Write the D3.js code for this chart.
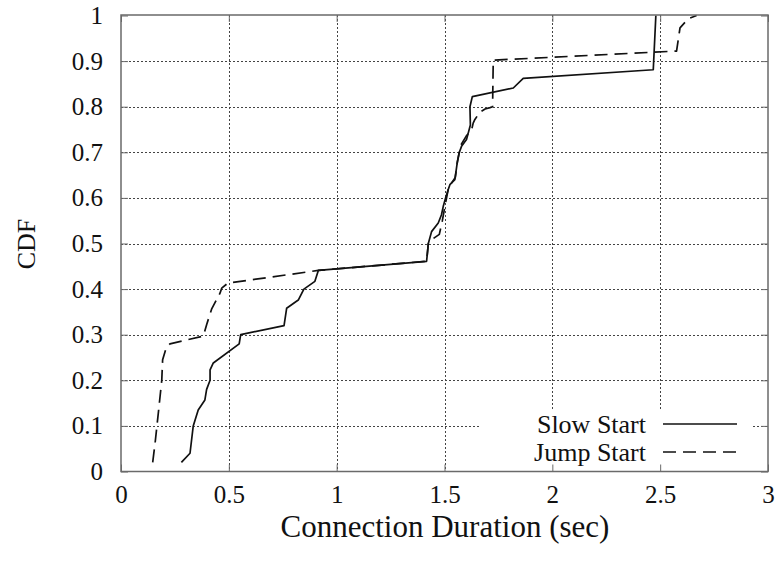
<!DOCTYPE html>
<html>
<head>
<meta charset="utf-8">
<script src="https://cdn.jsdelivr.net/npm/d3@7"></script>
<style>
  html, body { margin: 0; padding: 0; background: #fff; }
  svg { display: block; font-family: "Liberation Serif", "Times New Roman", serif; }
</style>
</head>
<body>
<svg id="chart" width="780" height="563"></svg>
<script>
// CDF of connection duration: [seconds, cumulative fraction]
const slowStart = [
  [0.28, 0.02], [0.32, 0.04], [0.335, 0.10], [0.358, 0.135], [0.389, 0.157],
  [0.397, 0.18], [0.413, 0.20], [0.413, 0.223], [0.428, 0.238], [0.548, 0.28],
  [0.555, 0.30], [0.756, 0.32], [0.768, 0.358], [0.822, 0.376], [0.848, 0.40],
  [0.899, 0.417], [0.915, 0.441], [1.417, 0.461], [1.425, 0.50], [1.44, 0.526],
  [1.471, 0.545], [1.486, 0.563], [1.494, 0.581], [1.505, 0.60], [1.517, 0.618],
  [1.525, 0.629], [1.548, 0.64], [1.559, 0.677], [1.568, 0.699], [1.579, 0.713],
  [1.602, 0.728], [1.61, 0.742], [1.62, 0.76], [1.618, 0.80], [1.629, 0.822],
  [1.819, 0.841], [1.865, 0.862], [2.468, 0.881], [2.48, 1.0]
];
const jumpStart = [
  [0.147, 0.02], [0.158, 0.062], [0.173, 0.128], [0.189, 0.20], [0.193, 0.245],
  [0.209, 0.27], [0.227, 0.28], [0.382, 0.297], [0.397, 0.322], [0.42, 0.356],
  [0.459, 0.391], [0.467, 0.402], [0.495, 0.413], [0.915, 0.441], [1.417, 0.461],
  [1.425, 0.50], [1.445, 0.51], [1.476, 0.52], [1.49, 0.55], [1.505, 0.589],
  [1.517, 0.618], [1.533, 0.633], [1.55, 0.645], [1.56, 0.68], [1.575, 0.715],
  [1.60, 0.735], [1.626, 0.75], [1.633, 0.764], [1.641, 0.772], [1.664, 0.788],
  [1.688, 0.795], [1.711, 0.798], [1.723, 0.80], [1.726, 0.902], [2.576, 0.922],
  [2.592, 0.973], [2.63, 0.993], [2.669, 1.0]
];
const xTicks = [0, 0.5, 1, 1.5, 2, 2.5, 3];
const xTickLabels = ["0", "0.5", "1", "1.5", "2", "2.5", "3"];
const yTicks = [0, 0.1, 0.2, 0.3, 0.4, 0.5, 0.6, 0.7, 0.8, 0.9, 1];
const yTickLabels = ["0", "0.1", "0.2", "0.3", "0.4", "0.5", "0.6", "0.7", "0.8", "0.9", "1"];
const seriesNames = ["Slow Start", "Jump Start"];

const svg = d3.select("#chart");
const plotLeft = 121, plotRight = 768, plotTop = 15, plotBottom = 471.5;

const x = d3.scaleLinear().domain([0, 3]).range([plotLeft, plotRight]);
const y = d3.scaleLinear().domain([0, 1]).range([plotBottom, 15.5]);

const borderColor = "#6a6a6a";
const fontFamily = "Liberation Serif, Times New Roman, serif";
const tickFont = 25;
const keyFont = 26;

// grid
const grid = svg.append("g").attr("stroke", "#444").attr("stroke-width", 1)
  .attr("stroke-dasharray", "2,2").attr("fill", "none");
grid.selectAll("line.gx").data(xTicks.slice(1, -1)).join("line")
  .attr("x1", d => Math.round(x(d)) + 0.5).attr("x2", d => Math.round(x(d)) + 0.5)
  .attr("y1", plotTop).attr("y2", plotBottom);
grid.selectAll("line.gy").data(yTicks.slice(1, -1)).join("line")
  .attr("y1", d => Math.round(y(d)) + 0.5).attr("y2", d => Math.round(y(d)) + 0.5)
  .attr("x1", plotLeft).attr("x2", plotRight);

// data lines
const line = d3.line().x(d => x(d[0])).y(d => y(d[1]));
svg.append("path").datum(slowStart).attr("d", line)
  .attr("fill", "none").attr("stroke", "#111").attr("stroke-width", 1.7)
  .attr("stroke-linejoin", "round");
svg.append("path").datum(jumpStart).attr("d", line)
  .attr("fill", "none").attr("stroke", "#111").attr("stroke-width", 1.7)
  .attr("stroke-dasharray", "13,7").attr("stroke-linejoin", "round");

// key background
svg.append("rect").attr("x", 481).attr("y", 411).attr("width", 272).attr("height", plotBottom - 411)
  .attr("fill", "#fff");

// axes (ticks pointing inward, mirrored on top/right)
const tickLen = 7;
const xAxis = d3.axisBottom(x).tickValues(xTicks)
  .tickFormat((d, i) => xTickLabels[i]).tickSizeInner(-tickLen).tickSizeOuter(0).tickPadding(14);
const yAxis = d3.axisLeft(y).tickValues(yTicks)
  .tickFormat((d, i) => yTickLabels[i]).tickSizeInner(-tickLen).tickSizeOuter(0).tickPadding(18);
const xTop = d3.axisTop(x).tickValues(xTicks).tickFormat("").tickSizeInner(-tickLen).tickSizeOuter(0);
const yRight = d3.axisRight(y).tickValues(yTicks).tickFormat("").tickSizeInner(-tickLen).tickSizeOuter(0);

function styleAxis(g) {
  g.attr("font-family", fontFamily);
  g.select(".domain").remove();
  g.selectAll(".tick line").attr("stroke", borderColor).attr("stroke-width", 1);
  g.selectAll(".tick text").attr("fill", "#111").attr("font-size", tickFont)
    .attr("font-family", fontFamily);
}
svg.append("g").attr("transform", `translate(0,${plotBottom})`).call(xAxis).call(styleAxis);
svg.append("g").attr("transform", `translate(${plotLeft},0)`).call(yAxis).call(styleAxis);
svg.append("g").attr("transform", `translate(0,${plotTop})`).call(xTop).call(styleAxis);
svg.append("g").attr("transform", `translate(${plotRight},0)`).call(yRight).call(styleAxis);

// border
svg.append("rect").attr("x", plotLeft).attr("y", plotTop)
  .attr("width", plotRight - plotLeft).attr("height", plotBottom - plotTop)
  .attr("fill", "none").attr("stroke", borderColor).attr("stroke-width", 1.5);

// axis titles
svg.append("text").attr("x", 445).attr("y", 537).attr("text-anchor", "middle")
  .attr("font-size", 31).attr("fill", "#111").text("Connection Duration (sec)");
svg.append("text").attr("transform", "translate(35,244) rotate(-90)").attr("text-anchor", "middle")
  .attr("font-size", keyFont).attr("fill", "#111").text("CDF");

// key
const key = svg.append("g");
const keyRows = [
  { name: seriesNames[0], y: 424, dash: null },
  { name: seriesNames[1], y: 452, dash: "13,7" }
];
keyRows.forEach(r => {
  key.append("text").attr("x", 646).attr("y", r.y).attr("dy", "0.33em").attr("text-anchor", "end")
    .attr("font-size", keyFont).attr("fill", "#111").text(r.name);
  key.append("line").attr("x1", 663).attr("x2", 737).attr("y1", r.y).attr("y2", r.y)
    .attr("stroke", "#111").attr("stroke-width", 1.7)
    .attr("stroke-dasharray", r.dash);
});
</script>
</body>
</html>
